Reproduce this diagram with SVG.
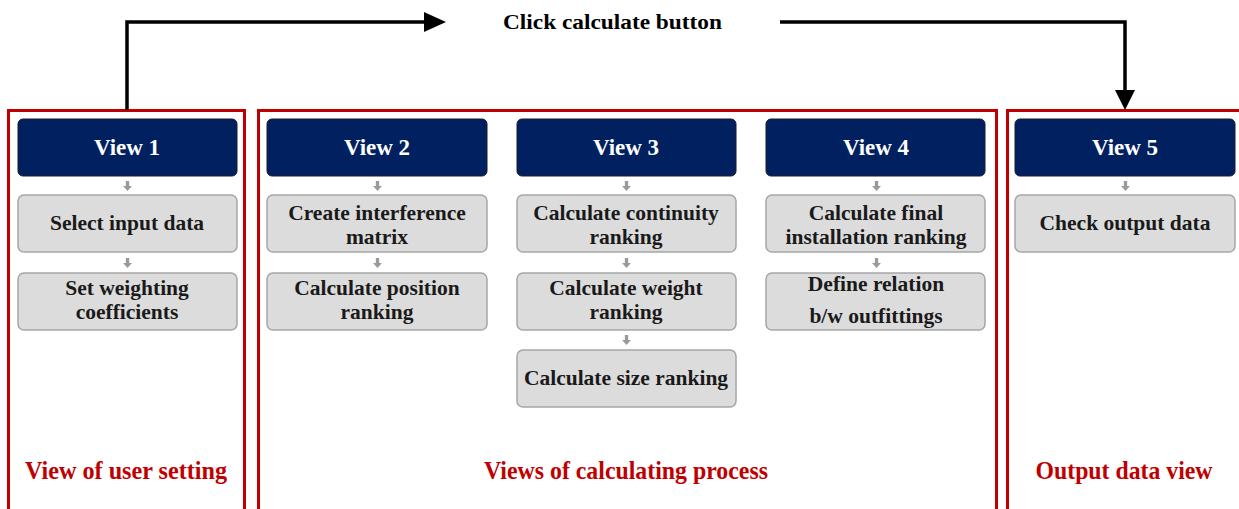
<svg xmlns="http://www.w3.org/2000/svg" width="1239" height="509" viewBox="0 0 1239 509">
<defs>
<symbol id="sa" viewBox="0 0 8 9"><path d="M2.5 0H5.5V4.5H8L4 9L0 4.5H2.5Z" fill="#9a9a9a"/></symbol>
</defs>
<style>
.grp{fill:none;stroke:#c00000;stroke-width:3}
.hd{fill:#002060;stroke:#1a1a2a;stroke-width:1}
.bx{fill:#dcdcdc;stroke:#a6a6a6;stroke-width:1.5}
.ht{font-family:"Liberation Serif",serif;font-weight:bold;font-size:23px;fill:#ffffff;text-anchor:middle}
.bt{font-family:"Liberation Serif",serif;font-weight:bold;font-size:21.5px;fill:#1a1a1a;text-anchor:middle}
.gt{font-family:"Liberation Serif",serif;font-weight:bold;font-size:25px;fill:#c00000;text-anchor:middle}
.tt{font-family:"Liberation Serif",serif;font-weight:bold;font-size:22px;fill:#000;text-anchor:middle}
.ln{fill:none;stroke:#000;stroke-width:3.5}
</style>
<rect width="1239" height="509" fill="#fff"/>

<g id="groups">
<rect class="grp" x="8.5" y="110.5" width="236" height="420"/>
<rect class="grp" x="258.5" y="110.5" width="738" height="420"/>
<rect class="grp" x="1007.5" y="110.5" width="250" height="420"/>
<text class="gt" x="126" y="479" textLength="202" lengthAdjust="spacingAndGlyphs">View of user setting</text>
<text class="gt" x="626" y="479" textLength="284" lengthAdjust="spacingAndGlyphs">Views of calculating process</text>
<text class="gt" x="1124" y="479" textLength="177" lengthAdjust="spacingAndGlyphs">Output data view</text>
</g>

<g id="connectors">
<polyline class="ln" points="127,110 127,22 426,22"/>
<polygon points="424,12 446,22 424,32" fill="#000"/>
<polyline class="ln" points="780,22 1125,22 1125,92"/>
<polygon points="1115,90 1125,110 1135,90" fill="#000"/>
<text class="tt" x="612.5" y="29" textLength="219" lengthAdjust="spacingAndGlyphs">Click calculate button</text>
<use href="#sa" x="123" y="181" width="9" height="10"/>
<use href="#sa" x="123" y="258" width="9" height="10"/>
<use href="#sa" x="373" y="181" width="9" height="10"/>
<use href="#sa" x="373" y="258" width="9" height="10"/>
<use href="#sa" x="622" y="181" width="9" height="10"/>
<use href="#sa" x="622" y="258" width="9" height="10"/>
<use href="#sa" x="622" y="335" width="9" height="10"/>
<use href="#sa" x="872" y="181" width="9" height="10"/>
<use href="#sa" x="872" y="258" width="9" height="10"/>
<use href="#sa" x="1121" y="181" width="9" height="10"/>
</g>

<g id="view1">
<rect class="hd" x="18" y="119" width="219" height="57" rx="5"/>
<text class="ht" x="127" y="155">View 1</text>
</g>
<g id="n-select">
<rect class="bx" x="18" y="195" width="219" height="57" rx="6"/>
<text class="bt" x="127" y="230">Select input  data</text>
</g>
<g id="n-weighting">
<rect class="bx" x="18" y="273" width="219" height="57" rx="6"/>
<text class="bt" x="127" y="295">Set weighting</text>
<text class="bt" x="127" y="319">coefficients</text>
</g>

<g id="view2">
<rect class="hd" x="267" y="119" width="220" height="57" rx="5"/>
<text class="ht" x="377" y="155">View 2</text>
</g>
<g id="n-interference">
<rect class="bx" x="267" y="195" width="220" height="57" rx="6"/>
<text class="bt" x="377" y="220">Create interference</text>
<text class="bt" x="377" y="244">matrix</text>
</g>
<g id="n-position">
<rect class="bx" x="267" y="273" width="220" height="57" rx="6"/>
<text class="bt" x="377" y="295">Calculate  position</text>
<text class="bt" x="377" y="319">ranking</text>
</g>

<g id="view3">
<rect class="hd" x="517" y="119" width="219" height="57" rx="5"/>
<text class="ht" x="626" y="155">View 3</text>
</g>
<g id="n-continuity">
<rect class="bx" x="517" y="195" width="219" height="57" rx="6"/>
<text class="bt" x="626" y="220">Calculate  continuity</text>
<text class="bt" x="626" y="244">ranking</text>
</g>
<g id="n-weight">
<rect class="bx" x="517" y="273" width="219" height="57" rx="6"/>
<text class="bt" x="626" y="295">Calculate  weight</text>
<text class="bt" x="626" y="319">ranking</text>
</g>
<g id="n-size">
<rect class="bx" x="517" y="350" width="219" height="57" rx="6"/>
<text class="bt" x="626" y="385">Calculate  size ranking</text>
</g>

<g id="view4">
<rect class="hd" x="766" y="119" width="219" height="57" rx="5"/>
<text class="ht" x="876" y="155">View 4</text>
</g>
<g id="n-final">
<rect class="bx" x="766" y="195" width="219" height="57" rx="6"/>
<text class="bt" x="876" y="220">Calculate  final</text>
<text class="bt" x="876" y="244">installation  ranking</text>
</g>
<g id="n-relation">
<rect class="bx" x="766" y="273" width="219" height="57" rx="6"/>
<text class="bt" x="876" y="291">Define relation</text>
<text class="bt" x="876" y="323">b/w  outfittings</text>
</g>

<g id="view5">
<rect class="hd" x="1015" y="119" width="220" height="57" rx="5"/>
<text class="ht" x="1125" y="155">View 5</text>
</g>
<g id="n-check">
<rect class="bx" x="1015" y="195" width="220" height="57" rx="6"/>
<text class="bt" x="1125" y="230">Check output  data</text>
</g>
</svg>
